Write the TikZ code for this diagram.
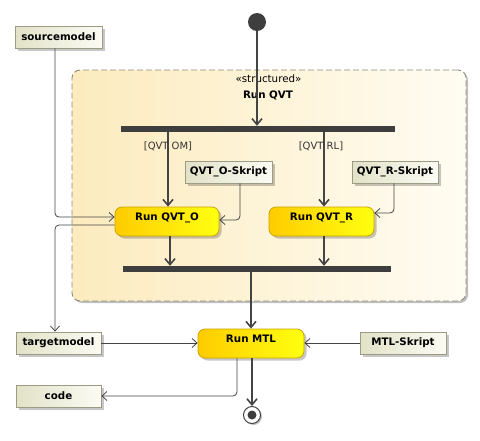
\documentclass[tikz,border=0pt]{standalone}
\usepackage{fontspec}
\setmainfont{DejaVu Sans}
\usetikzlibrary{arrows.meta,shadows,calc}
\definecolor{flow}{HTML}{444444}
\definecolor{objL}{HTML}{E2E2C8}
\definecolor{objR}{HTML}{FBFBF4}
\definecolor{objB}{HTML}{9C9C84}
\definecolor{actL}{HTML}{FFCC00}
\definecolor{actR}{HTML}{FFFF10}
\definecolor{actB}{HTML}{C8A400}
\definecolor{regL}{HTML}{FCEBBE}
\definecolor{regR}{HTML}{FFFCF2}
\definecolor{regB}{HTML}{8C8C7C}
\definecolor{barC}{HTML}{3E3E3E}
\tikzset{
  every node/.style={font=\fontsize{10.3}{12}\selectfont},
  shd/.style={drop shadow={shadow xshift=2.5pt,shadow yshift=-2.5pt,fill=black,opacity=0.22}},
  objbox/.style={draw=objB,line width=0.8pt,left color=objL,right color=objR,
    minimum height=22pt,inner sep=0pt,font=\fontsize{10.3}{12}\selectfont\bfseries,shd},
  actbox/.style={draw=actB,line width=0.8pt,left color=actL,right color=actR,
    rounded corners=7pt,minimum height=29pt,inner sep=0pt,text height=7.5pt,text depth=9pt,
    font=\fontsize{10.3}{12}\selectfont\bfseries,shd},
  barbox/.style={fill=barC,inner sep=0pt,minimum height=6pt},
  ctrl/.style={draw=flow,line width=2pt,-{Straight Barb[length=6pt,width=10pt,line width=1.6pt]}},
  objflow/.style={draw=flow,line width=0.8pt,rounded corners=4pt,-{Straight Barb[length=5pt,width=9pt,line width=0.8pt]}},
  guard/.style={font=\fontsize{10}{12}\selectfont,inner sep=0pt,text=black!80}
}
\begin{document}
\begin{tikzpicture}[x=1pt,y=-1pt]
\useasboundingbox (0,0) rectangle (480,440);
% structured region
\node[draw=regB,line width=0.9pt,dash pattern=on 6pt off 3pt,left color=regL,right color=regR,rounded corners=8pt,
  minimum width=394pt,minimum height=231pt,inner sep=0pt,
  drop shadow={shadow xshift=2pt,shadow yshift=-2pt,fill=black,opacity=0.25}] (region) at (269,185.5) {};
\node[inner sep=0pt] (stereo) at (268.5,79) {«structured»};
\node[inner sep=0pt,font=\fontsize{10.3}{12}\selectfont\bfseries] (rtitle) at (268,95) {Run QVT};
% initial / final
\node[circle,fill=barC,minimum size=18pt,inner sep=0pt] (init) at (257,22) {};
\node[circle,draw=flow,fill=white,line width=1pt,minimum size=17pt,inner sep=0pt,
  drop shadow={shadow xshift=1.5pt,shadow yshift=-1.5pt,fill=black,opacity=0.25}] (final) at (252,415) {};
\node[circle,fill=barC,minimum size=9pt,inner sep=0pt] (finaldot) at (final.center) {};
% bars
\node[barbox,minimum width=274pt] (fork) at (258,129) {};
\node[barbox,minimum width=268pt] (join) at (257,269) {};
% actions
\node[actbox,minimum width=104pt] (qvto) at (167,221.5) {Run QVT\_O};
\node[actbox,minimum width=105pt] (qvtr) at (321.5,221.5) {Run QVT\_R};
\node[actbox,minimum width=106pt] (mtl) at (251,343.5) {Run MTL};
% objects
\node[objbox,minimum width=87pt] (source) at (58.5,37) {sourcemodel};
\node[objbox,minimum width=87pt] (qvtos) at (228.5,172) {QVT\_O-Skript};
\node[objbox,minimum width=86pt] (qvtrs) at (395,172) {QVT\_R-Skript};
\node[objbox,minimum width=85pt] (target) at (58.5,343) {targetmodel};
\node[objbox,minimum width=85pt] (code) at (58.5,396) {code};
\node[objbox,minimum width=86pt] (mtls) at (403,343) {MTL-Skript};
% control flows
\draw[ctrl] (init) -- (init |- fork.north);
\draw[ctrl] ($(fork.south)+(-90,0)$) coordinate (f1) -- (f1 |- qvto.north);
\draw[ctrl] ($(fork.south)+(66,0)$) coordinate (f2) -- (f2 |- qvtr.north);
\draw[ctrl] ($(qvto.south)+(3,0)$) coordinate (q1) -- (q1 |- join.north);
\draw[ctrl] ($(qvtr.south)+(2.5,0)$) coordinate (q2) -- (q2 |- join.north);
\draw[ctrl] (mtl.north |- join.south) -- (mtl.north);
\draw[ctrl] ($(mtl.south)+(1,0)$) coordinate (m1) -- (m1 |- final.north);
\node[guard] (g1) at (168,146) {[QVT OM]};
\node[guard] (g2) at (321,146) {[QVT RL]};
% object flows
\coordinate (t1) at ($(target.north)+(-3.5,0)$);
\draw[objflow] ($(qvtos.south)+(11.5,0)$) coordinate (s1) -- (s1 |- 0,220) -- (qvto.east |- 0,220);
\draw[objflow] ($(qvtrs.south)+(-1,0)$) coordinate (s2) -- (s2 |- 0,213) -- (qvtr.east |- 0,213);
\draw[objflow] ($(source.south)+(-3.5,0)$) coordinate (s3) -- (s3 |- 0,217) -- (qvto.west |- 0,217);
\draw[objflow] (qvto.west |- 0,225) -- (t1 |- 0,225) -- (t1);
\draw[objflow] (target.east) -- (target.east -| mtl.west);
\draw[objflow] (mtls.west) -- (mtls.west -| mtl.east);
\draw[objflow] ($(mtl.south)+(-14,0)$) coordinate (m2) -- (m2 |- code.east) -- (code.east);
\end{tikzpicture}
\end{document}
